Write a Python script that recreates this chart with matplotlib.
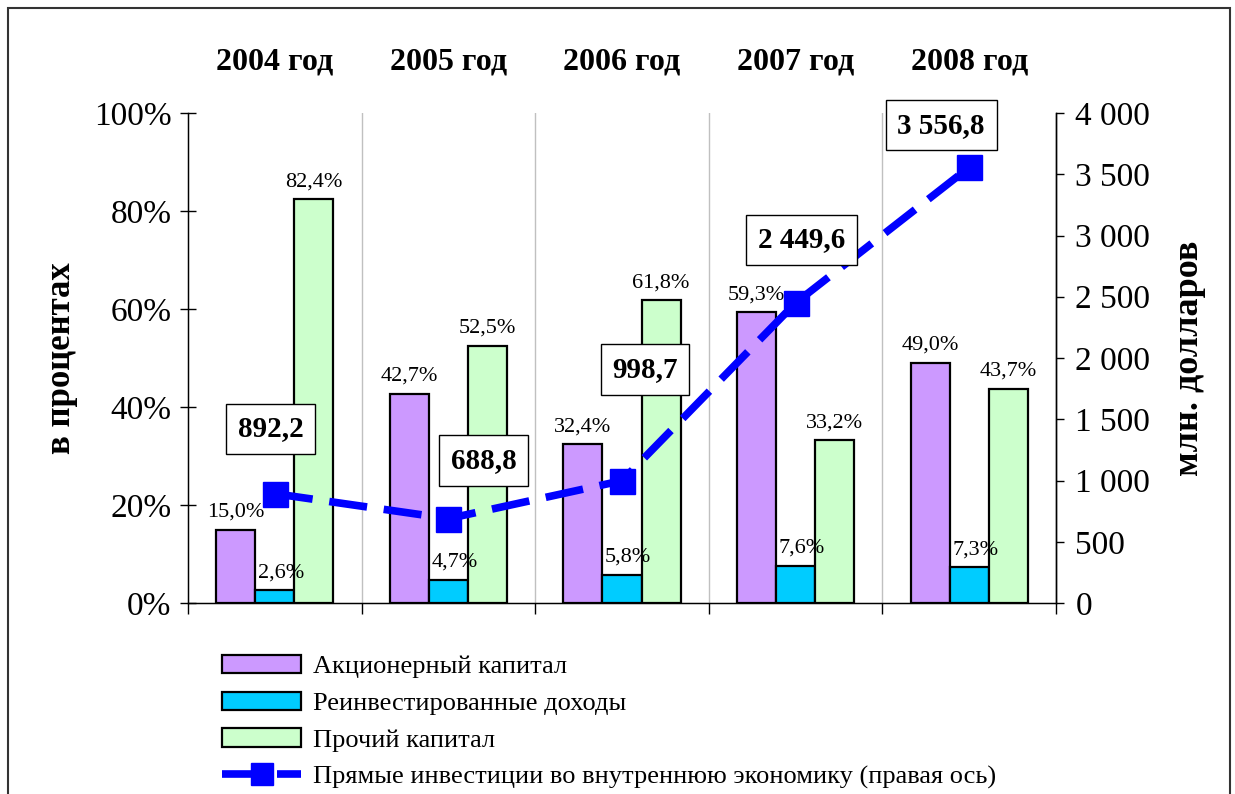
import numpy as np
import matplotlib
matplotlib.use("Agg")
import matplotlib.pyplot as plt
import matplotlib.transforms as mtransforms
from matplotlib.patches import Patch, Rectangle
from matplotlib.lines import Line2D
from matplotlib.ticker import FuncFormatter

plt.rcParams['font.family'] = ['Liberation Serif', 'DejaVu Serif']

years = ['2004 год', '2005 год', '2006 год', '2007 год', '2008 год']
equity = [15.0, 42.7, 32.4, 59.3, 49.0]
reinvested = [2.6, 4.7, 5.8, 7.6, 7.3]
other = [82.4, 52.5, 61.8, 33.2, 43.7]
fdi = [892.2, 688.8, 998.7, 2449.6, 3556.8]

bar_names = ['Акционерный капитал', 'Реинвестированные доходы', 'Прочий капитал']
line_name = 'Прямые инвестиции во внутреннюю экономику (правая ось)'
bar_colors = ['#CC99FF', '#00CCFF', '#CCFFCC']
line_color = '#0000FF'

# label offsets for the line values, pixels from the marker
fdi_offsets = [(-4, 65), (35, 58), (23, 111), (6, 63), (-28, 42)]


def pct(v):
    return f"{v:.1f}%".replace('.', ',')


def num(v):
    return f"{v:,.1f}".replace(',', ' ').replace('.', ',')


def main():
    fig = plt.figure(figsize=(12.35, 7.94), dpi=100)
    ax = fig.add_axes([188 / 1235, 1 - 603 / 794, (1056 - 188) / 1235, (603 - 113) / 794])
    ax2 = ax.twinx()

    x = np.arange(len(years))
    w = 0.225
    series = [equity, reinvested, other]
    for k, (vals, col) in enumerate(zip(series, bar_colors)):
        pos = x + (k - 1) * w
        ax.bar(pos, vals, width=w, color=col, edgecolor='black', linewidth=1.6, zorder=2)
        for xi, v in zip(pos, vals):
            dx = 6 if k == 1 else 0
            ax.annotate(pct(v), (xi, v), xytext=(dx, 8), textcoords='offset pixels',
                        ha='center', va='bottom', fontsize=16, zorder=3)

    ax.set_xlim(-0.5, len(years) - 0.5)
    ax.set_ylim(0, 100)
    ax.set_yticks(np.arange(0, 101, 20))
    ax.yaxis.set_major_formatter(FuncFormatter(lambda v, p: f"{v:.0f}%"))
    ax.tick_params(axis='y', direction='inout', length=12, width=1, labelsize=24, pad=6)
    ax.set_xticks(np.arange(-0.5, len(years), 1))
    ax.set_xticklabels([])
    ax.tick_params(axis='x', direction='out', length=8, width=1)
    for b in np.arange(0.5, len(years) - 1, 1):
        ax.axvline(b, color='#C0C0C0', linewidth=1, zorder=1)
    ax.spines['top'].set_visible(False)
    ax2.spines['top'].set_visible(False)
    for s in ['left', 'bottom', 'right']:
        ax.spines[s].set_linewidth(1)
    ax2.spines['right'].set_linewidth(1)

    ax2.set_ylim(0, 4000)
    ax2.set_yticks(np.arange(0, 4001, 500))
    ax2.yaxis.set_major_formatter(FuncFormatter(lambda v, p: f"{v:,.0f}".replace(',', ' ')))
    ax2.tick_params(axis='y', direction='out', length=6, width=1, labelsize=24, pad=8)

    ax2.plot(x, fdi, color=line_color, linewidth=5.5, dashes=(5, 2.2),
             marker='s', markersize=18, markeredgecolor=line_color, zorder=4)
    for xi, v, off in zip(x, fdi, fdi_offsets):
        ax2.annotate(num(v), (xi, v), xytext=off, textcoords='offset pixels',
                     ha='center', va='center', fontsize=21, fontweight='bold', zorder=5,
                     bbox=dict(boxstyle='square,pad=0.4', facecolor='white',
                               edgecolor='black', linewidth=1))

    tr = mtransforms.blended_transform_factory(ax.transData, fig.transFigure)
    for xi, name in zip(x, years):
        ax.text(xi, 1 - 62 / 794, name, transform=tr,
                ha='center', va='center', fontsize=23, fontweight='bold')

    fig.text(62 / 1235, 1 - 358 / 794, 'в процентах', rotation=90, ha='center', va='center',
             fontsize=25, fontweight='bold')
    fig.text(1190 / 1235, 1 - 358 / 794, 'млн. долларов', rotation=90, ha='center', va='center',
             fontsize=26, fontweight='bold')

    handles = [Patch(facecolor=c, edgecolor='black', linewidth=1.6) for c in bar_colors]
    handles.append(Line2D([0], [0], color=line_color, linewidth=5.5, dashes=(5, 2.2),
                          marker='s', markersize=16))
    fig.legend(handles, bar_names + [line_name], loc='upper left',
               bbox_to_anchor=(222 / 1235, 1 - 655 / 794), bbox_transform=fig.transFigure,
               frameon=False, fontsize=19, handlelength=3.0, handleheight=0.7,
               handletextpad=0.45, labelspacing=0.5, borderpad=0, borderaxespad=0)

    fig.patches.append(Rectangle((8 / 1235, -0.05), (1230 - 8) / 1235, 1.05 - 8 / 794,
                                 transform=fig.transFigure, fill=False,
                                 edgecolor='#333333', linewidth=1.5))

    fig.savefig('out.png', dpi=100)


if __name__ == "__main__":
    main()
